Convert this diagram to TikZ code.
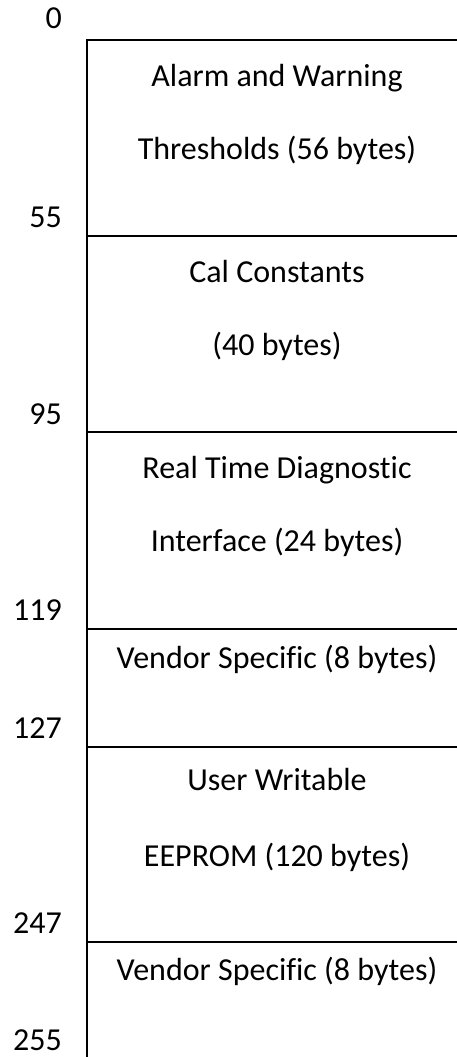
\documentclass[tikz,border=0pt]{standalone}
\usepackage{fontspec}
\setmainfont[Ligatures=CommonOff]{Carlito}
\begin{document}
\begin{tikzpicture}[x=1pt,y=-1pt,
  rule/.style={line width=2pt},
  addr/.style={anchor=base east, inner sep=0pt, font=\fontsize{32}{36}\selectfont},
  field/.style={anchor=base, inner sep=0pt, font=\fontsize{32}{36}\selectfont}]
\useasboundingbox (0,0) rectangle (457,1057);
% memory column: left spine and region boundaries
\draw[rule] (457,40) -- (87,40) -- (87,1057);
\foreach \y in {236,432,629,747,942}
  \draw[rule] (87,\y) -- (457,\y);
% byte addresses
\node[addr] (a0)   at (62,29)   {0};
\node[addr] (a55)  at (62,227)  {55};
\node[addr] (a95)  at (62,424)  {95};
\node[addr] (a119) at (62,620)  {119};
\node[addr] (a127) at (62,738)  {127};
\node[addr] (a247) at (62,933)  {247};
\node[addr] (a255) at (62,1050) {255};
% region contents
\node[field] (r1a) at (277,86)  {Alarm and Warning};
\node[field] (r1b) at (277,159) {Thresholds (56 bytes)};
\node[field] (r2a) at (277,282) {Cal Constants};
\node[field] (r2b) at (277,355) {(40 bytes)};
\node[field] (r3a) at (277,478) {Real Time Diagnostic};
\node[field] (r3b) at (277,551) {Interface (24 bytes)};
\node[field] (r4)  at (277,668) {Vendor Specific (8 bytes)};
\node[field] (r5a) at (277,790) {User Writable};
\node[field] (r5b) at (277,866) {EEPROM (120 bytes)};
\node[field] (r6)  at (277,980) {Vendor Specific (8 bytes)};
\end{tikzpicture}
\end{document}
